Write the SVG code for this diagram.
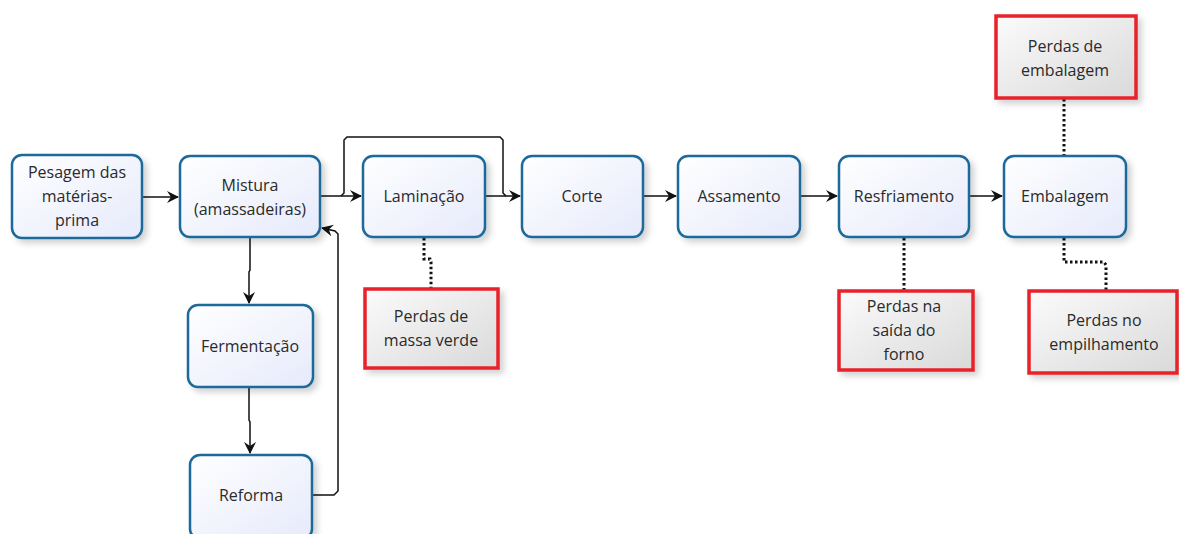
<svg xmlns="http://www.w3.org/2000/svg" width="1179" height="534" viewBox="0 0 1179 534">
<defs>
<linearGradient id="gb" x1="0" y1="0" x2="1" y2="1"><stop offset="0" stop-color="#ffffff"/><stop offset="1" stop-color="#e6eafb"/></linearGradient>
<linearGradient id="gr" x1="0" y1="0" x2="1" y2="1"><stop offset="0" stop-color="#fbfbfb"/><stop offset="1" stop-color="#d9d9d9"/></linearGradient>
<filter id="sh" x="-20%" y="-20%" width="150%" height="150%"><feDropShadow dx="4" dy="4" stdDeviation="3" flood-color="#000" flood-opacity="0.18"/></filter>
<marker id="ar" viewBox="0 0 12 12" refX="11" refY="6" markerWidth="12" markerHeight="12" markerUnits="userSpaceOnUse" orient="auto"><path d="M0,0 L12,6 L0,12 L4,6 Z" fill="#111"/></marker>
</defs>
<style>
.n{fill:url(#gb);stroke:#1e6a9a;stroke-width:2.5;filter:url(#sh)}
.l{fill:url(#gr);stroke:#e8202a;stroke-width:3.5;filter:url(#sh)}
text{font-family:"Open Sans","Noto Sans",sans-serif;font-size:16px;fill:#2a2a2a;text-anchor:middle}
.c{fill:none;stroke:#111;stroke-width:1.5}
.d{fill:none;stroke:#111;stroke-width:3;stroke-dasharray:2.5 2.5}
</style>
<rect width="1179" height="534" fill="#fff"/>
<g id="connectors">
<path class="c" d="M142,197 H178" marker-end="url(#ar)"/>
<path class="c" d="M320,196 H361" marker-end="url(#ar)"/>
<path class="c" d="M341,196 L344,193 V140 L347,137 H500 L503,140 V193 L506,196"/>
<path class="c" d="M485,196 H520" marker-end="url(#ar)"/>
<path class="c" d="M643,196 H676" marker-end="url(#ar)"/>
<path class="c" d="M800,196 H837" marker-end="url(#ar)"/>
<path class="c" d="M969,196 H1002" marker-end="url(#ar)"/>
<path class="c" d="M250,237 V270 L249,272 V303" marker-end="url(#ar)"/>
<path class="c" d="M249,387 V420 L250,422 V453" marker-end="url(#ar)"/>
<path class="c" d="M312,495 H334 L338,491 V234 L335,231 L322,228" marker-end="url(#ar)"/>
<path class="d" d="M424,238 V259 H430 L431,262 V288"/>
<path class="d" d="M904,238 V290"/>
<path class="d" d="M1064,99 V156"/>
<path class="d" d="M1064,238 V262 H1104 L1106,265 V290"/>
</g>
<g id="pesagem"><rect class="n" x="12" y="155" width="130" height="83" rx="10"/><text x="77" y="178">Pesagem das</text><text x="77" y="202">matérias-</text><text x="77" y="226">prima</text></g>
<g id="mistura"><rect class="n" x="180" y="156" width="140" height="81" rx="10"/><text x="250" y="191">Mistura</text><text x="250" y="215">(amassadeiras)</text></g>
<g id="laminacao"><rect class="n" x="363" y="156" width="122" height="81" rx="10"/><text x="424" y="202">Laminação</text></g>
<g id="corte"><rect class="n" x="522" y="156" width="121" height="81" rx="10"/><text x="582" y="202">Corte</text></g>
<g id="assamento"><rect class="n" x="678" y="156" width="122" height="81" rx="10"/><text x="739" y="202">Assamento</text></g>
<g id="resfriamento"><rect class="n" x="839" y="156" width="130" height="81" rx="10"/><text x="904" y="202">Resfriamento</text></g>
<g id="embalagem"><rect class="n" x="1004" y="156" width="122" height="81" rx="10"/><text x="1065" y="202">Embalagem</text></g>
<g id="fermentacao"><rect class="n" x="188" y="305" width="125" height="82" rx="10"/><text x="250" y="352">Fermentação</text></g>
<g id="reforma"><rect class="n" x="190" y="455" width="122" height="84" rx="10"/><text x="251" y="501">Reforma</text></g>
<g id="perdas-massa"><rect class="l" x="365" y="289" width="133" height="79"/><text x="431" y="322">Perdas de</text><text x="431" y="346">massa verde</text></g>
<g id="perdas-forno"><rect class="l" x="839" y="291" width="134" height="79"/><text x="904" y="312">Perdas na</text><text x="904" y="336">saída do</text><text x="904" y="360">forno</text></g>
<g id="perdas-embalagem"><rect class="l" x="996" y="16" width="140" height="82"/><text x="1065" y="52">Perdas de</text><text x="1065" y="76">embalagem</text></g>
<g id="perdas-empilhamento"><rect class="l" x="1029" y="291" width="148" height="82"/><text x="1104" y="326">Perdas no</text><text x="1104" y="350">empilhamento</text></g>
</svg>
